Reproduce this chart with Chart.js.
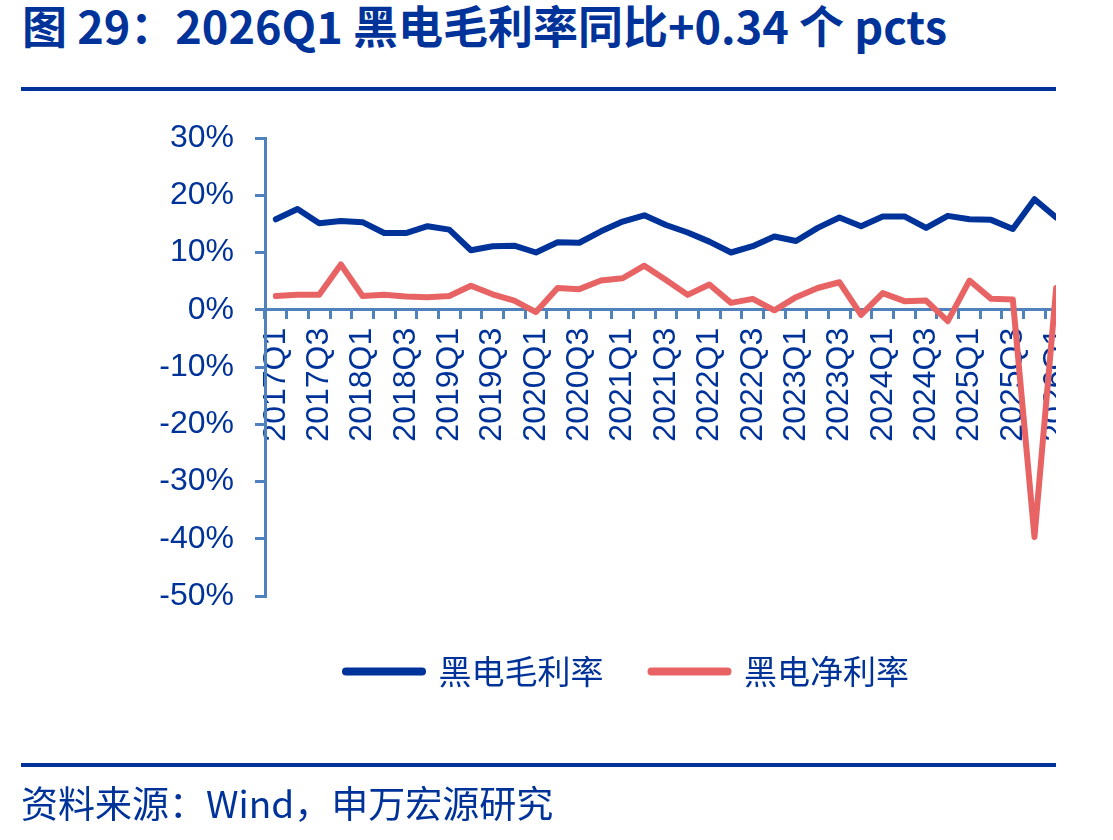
<!DOCTYPE html>
<html>
<head>
<meta charset="utf-8">
<script src="https://cdn.jsdelivr.net/npm/chart.js@4"></script>
<style>
  body { margin: 0; background: #fff; }
  #page { position: relative; width: 1113px; height: 840px; overflow: hidden; }
  .title { position: absolute; left: 22px; top: 2px; font: 700 45px/45px "Noto Sans CJK SC", sans-serif; color: #003399; white-space: nowrap; }
  .rule { position: absolute; left: 21px; width: 1035px; height: 4px; background: #003399; }
  .source { position: absolute; left: 21px; top: 784px; font: 400 37px/37px "Noto Sans CJK SC", sans-serif; color: #003399; white-space: nowrap; }
  #wrap { position: absolute; left: 0; top: 0; width: 1056px; height: 840px; overflow: hidden; }
  #wrap canvas { width: 1113px !important; height: 840px !important; }
</style>
</head>
<body>
<div id="page">
  <div class="title">图 29：2026Q1 黑电毛利率同比+0.34 个 pcts</div>
  <div class="rule" style="top:87px"></div>
  <div id="wrap"><canvas id="marginChart" width="1113" height="840"></canvas></div>
  <div class="rule" style="top:763px"></div>
  <div class="source">资料来源：Wind，申万宏源研究</div>
</div>
<script>
// quarters 2017Q1 .. 2026Q1
const quarters = [
  "2017Q1","2017Q2","2017Q3","2017Q4",
  "2018Q1","2018Q2","2018Q3","2018Q4",
  "2019Q1","2019Q2","2019Q3","2019Q4",
  "2020Q1","2020Q2","2020Q3","2020Q4",
  "2021Q1","2021Q2","2021Q3","2021Q4",
  "2022Q1","2022Q2","2022Q3","2022Q4",
  "2023Q1","2023Q2","2023Q3","2023Q4",
  "2024Q1","2024Q2","2024Q3","2024Q4",
  "2025Q1","2025Q2","2025Q3","2025Q4",
  "2026Q1"
];

// 黑电毛利率 (%)
const grossMargin = [
  15.8, 17.6, 15.1, 15.5,
  15.3, 13.4, 13.4, 14.6,
  14.0, 10.4, 11.1, 11.2,
  10.0, 11.8, 11.7, 13.7,
  15.4, 16.5, 14.8, 13.5,
  11.9, 10.0, 11.1, 12.8,
  12.0, 14.3, 16.1, 14.6,
  16.3, 16.3, 14.3, 16.4,
  15.8, 15.7, 14.1, 19.3,
  16.1
];

// 黑电净利率 (%)
const netMargin = [
  2.4, 2.6, 2.6, 7.9,
  2.4, 2.6, 2.3, 2.2,
  2.4, 4.2, 2.7, 1.6,
  -0.4, 3.8, 3.6, 5.1,
  5.5, 7.7, 5.2, 2.6,
  4.4, 1.2, 1.9, -0.1,
  2.2, 3.8, 4.8, -0.9,
  2.9, 1.5, 1.6, -2.0,
  5.1, 1.9, 1.8, -39.7,
  3.8
];

const yTicks = [-50, -40, -30, -20, -10, 0, 10, 20, 30];

const navy = '#003399';
const axisBlue = '#4f81bd';
const numFont = { family: '"Liberation Sans", Arial, sans-serif', size: 32 };

const data = {
  labels: quarters,
  datasets: [
    {
      label: '黑电毛利率',
      data: grossMargin,
      borderColor: navy,
      backgroundColor: navy,
      borderWidth: 6,
      borderCapStyle: 'round',
      borderJoinStyle: 'round',
      pointRadius: 0,
      tension: 0
    },
    {
      label: '黑电净利率',
      data: netMargin,
      borderColor: '#e86464',
      backgroundColor: '#e86464',
      borderWidth: 6,
      borderCapStyle: 'round',
      borderJoinStyle: 'round',
      pointRadius: 0,
      tension: 0
    }
  ]
};

// nudge the legend row to the right so it sits where the original one does
const legendShift = {
  id: 'legendShift',
  afterLayout(chart) {
    chart.legend.left += 19;
    chart.legend.right += 19;
  }
};

const options = {
  responsive: false,
  animation: false,
  layout: { padding: { left: 150, right: 46, top: 138, bottom: 142 } },
  plugins: {
    tooltip: { enabled: false },
    legend: {
      position: 'bottom',
      // empty title used only as a spacer above the legend row
      title: { display: true, text: '', font: { size: 1, lineHeight: 1 }, padding: { top: 10, bottom: 0 } },
      labels: {
        usePointStyle: true,
        pointStyle: 'line',
        pointStyleWidth: 76,
        padding: 48,
        color: navy,
        font: { family: '"Noto Sans CJK SC", sans-serif', size: 33 },
        generateLabels(chart) {
          return chart.data.datasets.map((ds, i) => ({
            text: ds.label,
            strokeStyle: ds.borderColor,
            fillStyle: ds.borderColor,
            fontColor: navy,
            lineWidth: 8,
            lineCap: 'round',
            pointStyle: 'line',
            datasetIndex: i,
            hidden: false
          }));
        }
      }
    }
  },
  scales: {
    x: {
      position: { y: 0 },
      offset: true,
      grid: { drawOnChartArea: false, offset: true, tickLength: 8, lineWidth: 3, color: axisBlue },
      border: { color: axisBlue, width: 3 },
      ticks: {
        autoSkip: false,
        minRotation: 90,
        maxRotation: 90,
        padding: 10,
        color: navy,
        font: numFont,
        callback: (v, i) => (i % 2 === 0 ? quarters[i] : '')
      }
    },
    y: {
      min: -50,
      max: 30,
      afterFit: s => { s.width = 115; },
      afterBuildTicks: s => { s.ticks = yTicks.map(v => ({ value: v })); },
      grid: { drawOnChartArea: false, tickLength: 10, lineWidth: 3, color: axisBlue },
      border: { color: axisBlue, width: 3 },
      ticks: {
        padding: 21,
        color: navy,
        font: numFont,
        callback: v => v + '%'
      }
    }
  }
};

new Chart(document.getElementById('marginChart').getContext('2d'), {
  type: 'line',
  data: data,
  options: options,
  plugins: [legendShift]
});
</script>
</body>
</html>
